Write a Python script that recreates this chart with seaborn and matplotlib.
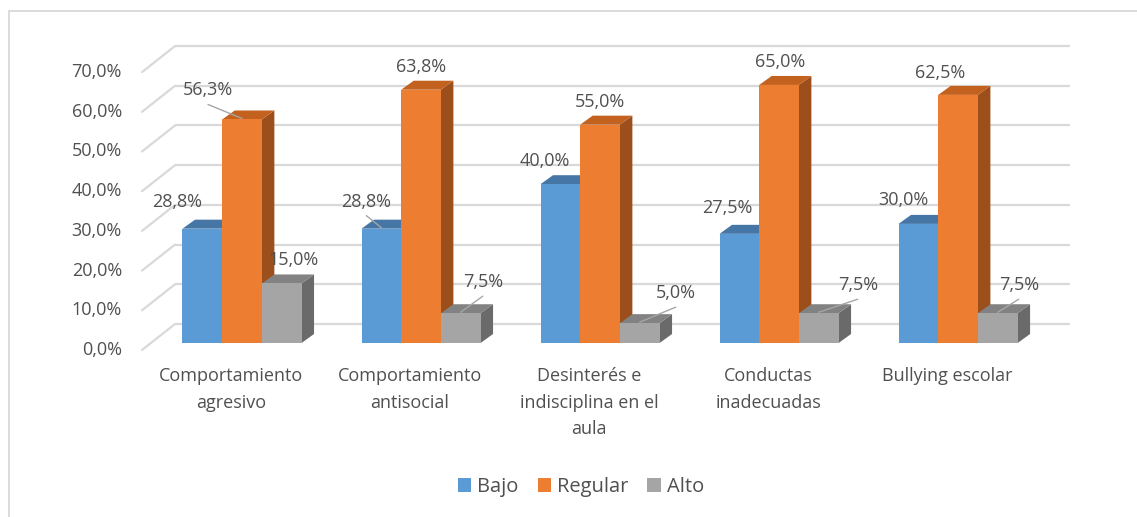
import textwrap
import numpy as np
import pandas as pd
import matplotlib
matplotlib.use("Agg")
import matplotlib.pyplot as plt
from matplotlib.patches import Polygon, Rectangle
import seaborn as sns

# ---------------- data ----------------
categories = ["Comportamiento agresivo", "Comportamiento antisocial",
              "Desinterés e indisciplina en el aula", "Conductas inadecuadas",
              "Bullying escolar"]
series_names = ["Bajo", "Regular", "Alto"]
bajo = [28.8, 28.8, 40.0, 27.5, 30.0]
regular = [56.3, 63.8, 55.0, 65.0, 62.5]
alto = [15.0, 7.5, 5.0, 7.5, 7.5]
y_ticks = [0, 10, 20, 30, 40, 50, 60, 70]

# ---------------- style ----------------
FRONT = {"Bajo": "#5B9BD5", "Regular": "#ED7D31", "Alto": "#A5A5A5"}
TOP = {"Bajo": "#4676A6", "Regular": "#C3611F", "Alto": "#828282"}
SIDE = {"Bajo": "#3B6894", "Regular": "#9C4E1B", "Alto": "#6A6A6A"}
TXT = "#505050"
GRID = "#D9D9D9"
FONT = "Open Sans"
FS = 13
# label offsets (px) from bar front-top centre, and whether a leader line is drawn
LABEL_OFF = {
    "Bajo":    [(-25, 27), (-15, 27), (-16, 23), (-12, 26), (-15, 24)],
    "Regular": [(-34, 29), (0, 23), (0, 23), (1, 23), (-18, 22)],
    "Alto":    [(12, 23), (22, 31), (36, 30), (39, 28), (21, 28)],
}
LEADER = {
    "Bajo":    [False, True, False, False, False],
    "Regular": [True, False, False, False, False],
    "Alto":    [False, True, True, True, True],
}

sns.set_theme(style="white")
plt.rcParams["font.family"] = [FONT, "DejaVu Sans"]

df = pd.DataFrame({
    "Categoría": categories * 3,
    "Nivel": [s for s in series_names for _ in categories],
    "Porcentaje": bajo + regular + alto,
})

W, H = 1137, 517
fig = plt.figure(figsize=(W / 100, H / 100), dpi=100)
fig.patch.set_facecolor("white")
ax = fig.add_axes([142 / W, (H - 343) / H, 895 / W, 80 * 3.97 / H])

sns.barplot(data=df, x="Categoría", y="Porcentaje", hue="Nivel",
            hue_order=series_names, order=categories, palette=FRONT,
            saturation=1, width=0.665, ax=ax, linewidth=0, edgecolor="none",
            legend=True)

xl = (-0.5587, 4.441)
ax.set_xlim(*xl)
ax.set_ylim(0, 80)
ax.set_axis_off()

# pixel -> data conversion from the axes' own scales
p0 = ax.transData.transform((0, 0))
p1 = ax.transData.transform((1, 1))
ppx = p1[0] - p0[0]
ppy = p1[1] - p0[1]
DX, DY = 33 / ppx, 19 / ppy          # wall depth
BX, BY = 12.5 / ppx, 9 / ppy         # bar depth

# back-wall grid and left-wall diagonals
for v in y_ticks:
    ax.plot([xl[0] + DX, xl[1] + DX], [v + DY, v + DY], color=GRID, lw=1.6,
            clip_on=False, zorder=1, solid_capstyle="butt")
    ax.plot([xl[0], xl[0] + DX], [v - 7 / ppy, v + DY], color=GRID, lw=1.6,
            clip_on=False, zorder=1)
    ax.text(xl[0] - 20 / ppx, v - 7 / ppy, f"{v:.1f}%".replace(".", ","),
            ha="right", va="center", fontsize=FS, color=TXT)

# 3D bars
bars = []
for name, cont in zip(series_names, ax.containers):
    for i, p in enumerate(cont.patches):
        bars.append((p.get_x(), name, i, p))
bars.sort(key=lambda b: b[0])
for k, (x0, name, i, p) in enumerate(bars):
    w, h = p.get_width(), p.get_height()
    z = 3 + 0.1 * k
    side = Polygon([(x0 + w, 0), (x0 + w, h), (x0 + w + BX, h + BY), (x0 + w + BX, BY)],
                   closed=True, facecolor=SIDE[name], edgecolor="none", zorder=z, clip_on=False)
    top = Polygon([(x0, h), (x0 + w, h), (x0 + w + BX, h + BY), (x0 + BX, h + BY)],
                  closed=True, facecolor=TOP[name], edgecolor="none", zorder=z, clip_on=False)
    ax.add_patch(side)
    ax.add_patch(top)
    p.set_zorder(z + 0.05)
    p.set_clip_on(False)

    cx = x0 + w / 2
    dxp, dyp = LABEL_OFF[name][i]
    lx, ly = cx + dxp / ppx, h + dyp / ppy
    ax.text(lx, ly, f"{h:.1f}%".replace(".", ","), ha="center", va="center",
            fontsize=FS, color=TXT, zorder=10)
    if LEADER[name][i]:
        ax.plot([lx, cx], [ly - 14 / ppy, h + 1 / ppy], color="#A6A6A6", lw=1.0,
                zorder=9, clip_on=False)

# category labels
for i, cat in enumerate(categories):
    ax.text(i - 11 / ppx, -24 / ppy, textwrap.fill(cat, 18), ha="center", va="top",
            multialignment="center", linespacing=1.62, fontsize=FS, color=TXT)

# legend
sns.move_legend(ax, "center", bbox_to_anchor=(581 / W, 1 - 487 / H),
                bbox_transform=fig.transFigure, ncol=3, frameon=False, title=None,
                handlelength=0.65, handleheight=0.65, handletextpad=0.3,
                columnspacing=0.95, fontsize=14.5, labelcolor=TXT)

# chart border
fig.add_artist(Rectangle((9 / W, -0.1), 1.2, (H - 11) / H + 0.1,
                         transform=fig.transFigure, facecolor="none",
                         edgecolor=GRID, lw=1.3))

fig.savefig("out.png", dpi=100, facecolor="white")
